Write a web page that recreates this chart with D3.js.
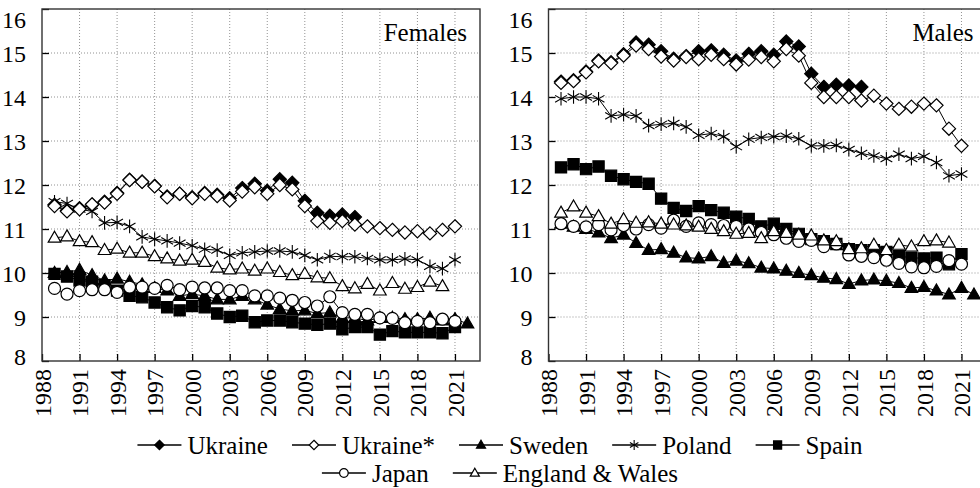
<!DOCTYPE html>
<html>
<head>
<meta charset="utf-8">
<script src="https://cdn.jsdelivr.net/npm/d3@7"></script>
<style>
  body { margin: 0; background: #fff; }
  svg text { font-family: "Liberation Serif", "DejaVu Serif", serif; fill: #000; }
  .grid line { stroke: #777; stroke-width: 0.8; stroke-dasharray: 1,2; }
</style>
</head>
<body>
<div class="chart"></div>
<script>
// years 1989..2022, null = no value
const years = [1989, 1990, 1991, 1992, 1993, 1994, 1995, 1996, 1997, 1998, 1999, 2000,
  2001, 2002, 2003, 2004, 2005, 2006, 2007, 2008, 2009, 2010, 2011, 2012, 2013, 2014,
  2015, 2016, 2017, 2018, 2019, 2020, 2021, 2022];
const xTicks = [1988, 1991, 1994, 1997, 2000, 2003, 2006, 2009, 2012, 2015, 2018, 2021];
const yTicks = [8, 9, 10, 11, 12, 13, 14, 15, 16];

const seriesNames = ["Ukraine", "Ukraine*", "Sweden", "Poland", "Spain", "Japan", "England & Wales"];
const panelTitles = ["Females", "Males"];

// Females
const fUkraine = [11.55, 11.42, 11.47, 11.55, 11.62, 11.82, 12.12, 12.08, 11.98, 11.74, 11.8, 11.72,
  11.82, 11.78, 11.7, 11.93, 12.03, 11.87, 12.13, 12.05, 11.64, 11.37, 11.3, 11.33, 11.27, null,
  null, null, null, null, null, null, null, null];
const fUkraineStar = [11.52, 11.4, 11.45, 11.56, 11.6, 11.8, 12.11, 12.07, 11.97, 11.72, 11.8, 11.7,
  11.8, 11.75, 11.65, 11.85, 11.95, 11.8, 12.0, 11.9, 11.52, 11.18, 11.14, 11.18, 11.1, 11.06,
  11.02, 10.98, 10.92, 10.95, 10.9, 10.98, 11.06, null];
const fSweden = [10.0, 10.02, 10.07, 9.95, 9.83, 9.87, 9.8, 9.74, 9.66, 9.6, 9.48, 9.52,
  9.48, 9.4, 9.4, 9.48, 9.4, 9.28, 9.18, 9.14, 9.15, 9.08, 9.1, 8.98, 8.98, 8.92,
  8.98, 8.98, 8.95, 8.95, 8.98, 8.92, 8.95, 8.85];
const fPoland = [11.62, 11.58, 11.45, 11.4, 11.14, 11.15, 11.06, 10.82, 10.77, 10.73, 10.68, 10.62,
  10.54, 10.52, 10.4, 10.46, 10.48, 10.5, 10.5, 10.48, 10.4, 10.3, 10.38, 10.37, 10.37, 10.33,
  10.3, 10.3, 10.32, 10.3, 10.15, 10.1, 10.3, null];
const fSpain = [9.98, 9.92, 9.83, 9.8, 9.72, 9.6, 9.48, 9.45, 9.33, 9.22, 9.15, 9.25,
  9.22, 9.08, 9.0, 9.03, 8.88, 8.92, 8.92, 8.88, 8.85, 8.82, 8.85, 8.72, 8.77, 8.77,
  8.6, 8.68, 8.65, 8.65, 8.65, 8.63, 8.77, null];
const fJapan = [9.65, 9.52, 9.6, 9.62, 9.62, 9.56, 9.68, 9.68, 9.65, 9.72, 9.62, 9.68,
  9.66, 9.66, 9.6, 9.6, 9.48, 9.48, 9.43, 9.38, 9.33, 9.25, 9.46, 9.1, 9.06, 9.06,
  8.98, 8.97, 8.87, 8.9, 8.87, 8.95, 8.9, null];
const fEngland = [10.8, 10.83, 10.72, 10.7, 10.52, 10.55, 10.46, 10.46, 10.38, 10.33, 10.28, 10.3,
  10.25, 10.12, 10.08, 10.1, 10.05, 10.1, 10.02, 9.95, 9.98, 9.9, 9.88, 9.7, 9.65, 9.75,
  9.6, 9.77, 9.64, 9.68, 9.8, 9.7, null, null];

// Males
const mUkraine = [14.35, 14.38, 14.58, 14.83, 14.79, 14.97, 15.24, 15.19, 15.04, 14.87, 14.93, 15.04,
  15.06, 14.96, 14.83, 14.98, 15.04, 14.96, 15.26, 15.15, 14.53, 14.23, 14.28, 14.26, 14.23, null,
  null, null, null, null, null, null, null, null];
const mUkraineStar = [14.32, 14.36, 14.56, 14.81, 14.77, 14.94, 15.17, 15.09, 14.92, 14.83, 14.91, 14.86,
  14.96, 14.86, 14.74, 14.85, 14.91, 14.81, 15.09, 14.94, 14.32, 14.0, 14.0, 14.0, 13.92, 14.03,
  13.85, 13.73, 13.78, 13.85, 13.81, 13.28, 12.89, null];
const mSweden = [11.12, 11.05, 11.0, 10.92, 10.79, 10.87, 10.68, 10.52, 10.54, 10.46, 10.35, 10.33,
  10.38, 10.23, 10.28, 10.22, 10.12, 10.1, 10.05, 10.0, 9.95, 9.89, 9.86, 9.75, 9.83, 9.85,
  9.82, 9.77, 9.66, 9.68, 9.6, 9.51, 9.66, 9.51];
const mPoland = [13.96, 14.0, 14.0, 13.96, 13.57, 13.6, 13.57, 13.35, 13.38, 13.4, 13.32, 13.13,
  13.17, 13.1, 12.87, 13.04, 13.08, 13.1, 13.11, 13.05, 12.89, 12.89, 12.9, 12.81, 12.72, 12.66,
  12.6, 12.7, 12.6, 12.65, 12.51, 12.21, 12.25, null];
const mSpain = [12.4, 12.47, 12.36, 12.42, 12.21, 12.13, 12.07, 12.03, 11.69, 11.48, 11.41, 11.52,
  11.43, 11.37, 11.28, 11.23, 11.06, 11.12, 11.0, 10.89, 10.77, 10.72, 10.66, 10.54, 10.52, 10.52,
  10.48, 10.38, 10.35, 10.33, 10.35, 10.2, 10.43, null];
const mJapan = [11.12, 11.06, 11.05, 11.1, 10.98, 11.08, 11.0, 11.1, 11.02, 11.2, 11.06, 11.14,
  11.1, 11.08, 11.06, 11.0, 10.92, 10.87, 10.79, 10.72, 10.74, 10.6, 10.66, 10.41, 10.38, 10.35,
  10.29, 10.22, 10.14, 10.12, 10.15, 10.28, 10.2, null];
const mEngland = [11.37, 11.51, 11.37, 11.29, 11.12, 11.22, 11.14, 11.15, 11.12, 11.1, 11.08, 11.05,
  11.0, 10.95, 10.89, 10.91, 10.79, 10.95, 10.91, 10.87, 10.85, 10.74, 10.72, 10.54, 10.56, 10.64,
  10.52, 10.64, 10.6, 10.72, 10.74, 10.69, null, null];

const femaleValues = [fUkraine, fUkraineStar, fSweden, fPoland, fSpain, fJapan, fEngland];
const maleValues = [mUkraine, mUkraineStar, mSweden, mPoland, mSpain, mJapan, mEngland];

// marker style per series
const markers = ["diamond", "diamond", "triangle", "asterisk", "square", "circle", "triangle"];
const filled = [true, false, true, false, true, false, false];
// draw order (later on top)
const drawOrder = [4, 2, 5, 6, 3, 0, 1];

const width = 980, height = 488;
const svg = d3.select(".chart").append("svg")
  .attr("width", width).attr("height", height);

const markerPath = (type, k) => {
  const p = d3.path();
  if (type === "diamond") {
    const s = 6.6 * k;
    p.moveTo(0, -s); p.lineTo(s, 0); p.lineTo(0, s); p.lineTo(-s, 0); p.closePath();
  } else if (type === "square") {
    const s = 5.6 * k;
    p.rect(-s, -s, 2 * s, 2 * s);
  } else if (type === "triangle") {
    const w = 6.3 * k;
    p.moveTo(0, -6.6 * k); p.lineTo(w, 4.4 * k); p.lineTo(-w, 4.4 * k); p.closePath();
  } else if (type === "circle") {
    const r = 6 * k;
    p.moveTo(r, 0); p.arc(0, 0, r, 0, 2 * Math.PI);
  } else if (type === "asterisk") {
    const r = 6.8 * k;
    [90, 30, 150].forEach(a => {
      const dx = r * Math.cos(a * Math.PI / 180), dy = r * Math.sin(a * Math.PI / 180);
      p.moveTo(-dx, -dy); p.lineTo(dx, dy);
    });
  }
  return p.toString();
};

const drawMarker = (g, i, k) => g.append("path")
  .attr("d", markerPath(markers[i], k))
  .attr("fill", markers[i] === "asterisk" ? "none" : (filled[i] ? "#000" : "#fff"))
  .attr("stroke", "#000")
  .attr("stroke-width", markers[i] === "asterisk" ? 1.1 : 1.2);

const plotH = { top: 9, bottom: 361 };
const panels = [
  { left: 42, right: 480, title: panelTitles[0], values: femaleValues },
  { left: 548.5, right: 986.5, title: panelTitles[1], values: maleValues }
];

panels.forEach(panel => {
  const x = d3.scaleLinear().domain([1988, 2023]).range([panel.left, panel.right]);
  const y = d3.scaleLinear().domain([8, 16]).range([plotH.bottom, plotH.top]);
  const g = svg.append("g");

  // grid
  const grid = g.append("g").attr("class", "grid");
  grid.selectAll(".gx").data(xTicks.slice(1)).enter().append("line")
    .attr("x1", d => x(d)).attr("x2", d => x(d))
    .attr("y1", plotH.top).attr("y2", plotH.bottom);
  grid.selectAll(".gy").data(yTicks.slice(1, -1)).enter().append("line")
    .attr("x1", panel.left).attr("x2", panel.right)
    .attr("y1", d => y(d)).attr("y2", d => y(d));

  // axes: inward ticks
  const yAxis = d3.axisLeft(y).tickValues(yTicks).tickSizeInner(-7).tickSizeOuter(0).tickPadding(16);
  const gy = g.append("g").attr("transform", "translate(" + panel.left + ",0)").call(yAxis);
  gy.select(".domain").remove();
  gy.selectAll(".tick line").attr("stroke", "#000").attr("stroke-width", 1.3);
  gy.selectAll(".tick text").attr("font-size", 24)
    .attr("dy", d => d === 16 ? "0.75em" : (d === 8 ? "0.15em" : "0.34em"));

  const xAxis = d3.axisBottom(x).tickValues(xTicks).tickFormat(d3.format("d"))
    .tickSizeInner(-7).tickSizeOuter(0);
  const gx = g.append("g").attr("transform", "translate(0," + plotH.bottom + ")").call(xAxis);
  gx.select(".domain").remove();
  gx.selectAll(".tick line").attr("stroke", "#000").attr("stroke-width", 1.3);
  gx.selectAll(".tick text").attr("font-size", 24)
    .attr("transform", "rotate(-90)")
    .attr("text-anchor", "end")
    .attr("x", -8).attr("y", 0).attr("dy", "0.34em");

  // frame
  g.append("rect")
    .attr("x", panel.left).attr("y", plotH.top)
    .attr("width", panel.right - panel.left).attr("height", plotH.bottom - plotH.top)
    .attr("fill", "none").attr("stroke", "#333").attr("stroke-width", 1.4);

  // title
  g.append("text")
    .attr("x", panel.right - 13).attr("y", 41)
    .attr("text-anchor", "end").attr("font-size", 25)
    .text(panel.title);

  // series
  const line = d3.line()
    .defined(d => d.v !== null)
    .x(d => x(d.year)).y(d => y(d.v));

  drawOrder.forEach(i => {
    const pts = years.map((yr, j) => ({ year: yr, v: panel.values[i][j] }));
    const sg = g.append("g");
    sg.append("path").datum(pts)
      .attr("d", line).attr("fill", "none")
      .attr("stroke", "#000").attr("stroke-width", 1);
    pts.filter(d => d.v !== null).forEach(d => {
      const mg = sg.append("g").attr("transform", "translate(" + x(d.year) + "," + y(d.v) + ")");
      drawMarker(mg, i, 1);
    });
  });
});

// legend
const legendRows = [[0, 1, 2, 3, 4], [5, 6]];
const legendY = [445, 473];
const legendCenter = 500;
legendRows.forEach((row, r) => {
  const lg = svg.append("g");
  let cx = 0;
  row.forEach(i => {
    const item = lg.append("g").attr("transform", "translate(" + cx + "," + legendY[r] + ")");
    item.append("line").attr("x1", 0).attr("x2", 44).attr("y1", 0).attr("y2", 0)
      .attr("stroke", "#000").attr("stroke-width", 1.3);
    const mg = item.append("g").attr("transform", "translate(22,0)");
    drawMarker(mg, i, 0.72);
    const t = item.append("text").attr("x", 50).attr("y", 0).attr("dy", "0.34em")
      .attr("font-size", 25).text(seriesNames[i]);
    cx += 50 + t.node().getComputedTextLength() + 24;
  });
  const total = cx - 24;
  lg.attr("transform", "translate(" + (legendCenter - total / 2) + ",0)");
});
</script>
</body>
</html>
